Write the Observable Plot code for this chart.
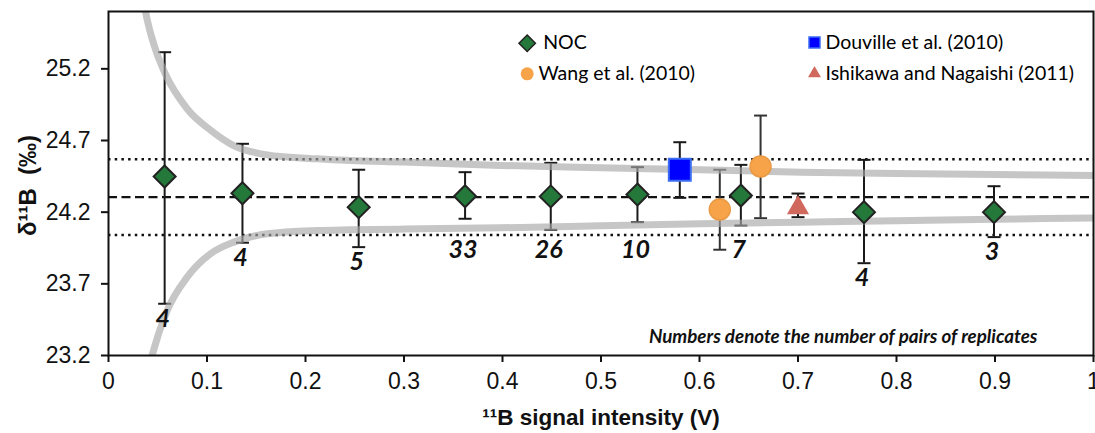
<!DOCTYPE html>
<html><head><meta charset="utf-8">
<script src="https://cdn.jsdelivr.net/npm/d3@7"></script>
<script src="https://cdn.jsdelivr.net/npm/@observablehq/plot@0.6"></script>
<style>body{margin:0;background:#fff}</style>
</head><body><div id="chart"></div>
<script>
// ---- data ----
const xTicks = [0, 0.1, 0.2, 0.3, 0.4, 0.5, 0.6, 0.7, 0.8, 0.9, 1];
const xTickLabels = ["0", "0.1", "0.2", "0.3", "0.4", "0.5", "0.6", "0.7", "0.8", "0.9", "1"];
const yTicks = [23.2, 23.7, 24.2, 24.7, 25.2];
const yTickLabels = ["23.2", "23.7", "24.2", "24.7", "25.2"];

const nocX = [0.057, 0.136, 0.254, 0.362, 0.449, 0.537, 0.642, 0.767, 0.899];
const nocY = [24.449, 24.332, 24.235, 24.311, 24.31, 24.323, 24.316, 24.2, 24.2];
const nocHigh = [25.316, 24.677, 24.496, 24.479, 24.544, 24.514, 24.53, 24.565, 24.381];
const nocLow = [23.561, 23.987, 23.956, 24.154, 24.077, 24.13, 24.107, 23.844, 24.026];
const nocPairs = ["4", "4", "5", "33", "26", "10", "7", "4", "3"];

const douvilleX = [0.580];
const douvilleY = [24.496];
const douvilleHigh = [24.688];
const douvilleLow = [24.30];

const wangX = [0.6206, 0.662];
const wangY = [24.219, 24.519];
const wangHigh = [24.496, 24.874];
const wangLow = [23.938, 24.158];

const ishikawaX = [0.700];
const ishikawaY = [24.23];
const ishikawaHigh = [24.33];
const ishikawaLow = [24.165];

const meanValue = 24.305;
const bandUpper = 24.57;
const bandLower = 24.04;

const upperCurveX = [0.034, 0.0376, 0.047, 0.058, 0.080, 0.104, 0.127, 0.161, 0.212, 0.246, 0.30, 0.398, 0.50, 0.601, 0.7025, 0.80, 0.90, 1.0];
const upperCurveY = [25.75, 25.6, 25.35, 25.16, 24.92, 24.77, 24.665, 24.60, 24.572, 24.56, 24.55, 24.526, 24.51, 24.496, 24.479, 24.47, 24.463, 24.456];
const lowerCurveX = [0.041, 0.0443, 0.0596, 0.0799, 0.1036, 0.1272, 0.1611, 0.212, 0.2457, 0.30, 0.398, 0.50, 0.601, 0.7025, 0.80, 0.90, 1.0];
const lowerCurveY = [23.11, 23.2, 23.514, 23.747, 23.91, 23.991, 24.049, 24.072, 24.077, 24.082, 24.091, 24.105, 24.119, 24.13, 24.14, 24.15, 24.16];

const legendLabels = ["NOC", "Wang et al. (2010)", "Douville et al. (2010)", "Ishikawa and Nagaishi (2011)"];
const noteText = "Numbers denote the number of pairs of replicates";

// ---- tables ----
const rows = (xs, ys, hs, ls) => xs.map((x, i) => ({x, y: ys[i], hi: hs[i], lo: ls[i]}));
const noc = rows(nocX, nocY, nocHigh, nocLow).map((d, i) => ({...d, n: nocPairs[i]}));
const douville = rows(douvilleX, douvilleY, douvilleHigh, douvilleLow);
const wang = rows(wangX, wangY, wangHigh, wangLow);
const ishikawa = rows(ishikawaX, ishikawaY, ishikawaHigh, ishikawaLow);
const upperCurve = upperCurveX.map((x, i) => ({x, y: upperCurveY[i]}));
const lowerCurve = lowerCurveX.map((x, i) => ({x, y: lowerCurveY[i]}));

const cap = {draw(ctx, size) { const w = Math.sqrt(size / Math.PI); ctx.moveTo(-w, 0); ctx.lineTo(w, 0); }};

function errorBars(data, color) {
  return [
    Plot.ruleX(data, {x: "x", y1: "lo", y2: "hi", stroke: color, strokeWidth: 2}),
    Plot.dot(data, {x: "x", y: "hi", symbol: cap, r: 6.5, stroke: color, strokeWidth: 2}),
    Plot.dot(data, {x: "x", y: "lo", symbol: cap, r: 6.5, stroke: color, strokeWidth: 2})
  ];
}

const GREEN = "#24793a", ORANGE = "#f6a349", BLUE = "#0000ff", RED = "#d0685e";
const SANS = "'Liberation Sans', Arial, sans-serif";
const HUMAN = "Lato, 'Open Sans', sans-serif";

const legendMark = (sym, fill, stroke, r, dx, dy) =>
  Plot.dot([0], {frameAnchor: "top-left", dx, dy, symbol: sym, r, fill, stroke, strokeWidth: stroke ? 1.5 : 0});
const legendText = (label, dx, dy) =>
  Plot.text([label], {frameAnchor: "top-left", lineAnchor: "middle", dx, dy, text: d => d, textAnchor: "start", fontSize: 19.5, fontFamily: HUMAN, fill: "#000"});

const chart = Plot.plot({
  width: 1095,
  height: 433,
  marginLeft: 108,
  marginRight: 2,
  marginTop: 11,
  marginBottom: 78,
  style: {fontFamily: SANS, fontSize: "23px", color: "#111", background: "#fff"},
  x: {domain: [0, 1]},
  y: {domain: [23.2, 25.6]},
  marks: [
    Plot.ruleY([meanValue], {stroke: "#111", strokeWidth: 2.2, strokeDasharray: "9,4.5"}),
    Plot.ruleY([bandUpper, bandLower], {stroke: "#111", strokeWidth: 2.5, strokeDasharray: "2.5,4.2"}),
    ...errorBars(noc, "#1a1a1a"),
    ...errorBars(douville, "#1a1a1a"),
    ...errorBars(wang, "#333"),
    ...errorBars(ishikawa, "#1a1a1a"),
    Plot.line(upperCurve, {x: "x", y: "y", stroke: "#a8a8a8", strokeOpacity: 0.65, strokeWidth: 7, curve: "monotone-x", clip: true}),
    Plot.line(lowerCurve, {x: "x", y: "y", stroke: "#a8a8a8", strokeOpacity: 0.65, strokeWidth: 7, curve: "monotone-x", clip: true}),
    Plot.dot(noc, {x: "x", y: "y", symbol: "diamond2", r: 9.9, fill: GREEN, stroke: "#222", strokeWidth: 2}),
    Plot.dot(douville, {x: "x", y: "y", symbol: "square", r: 12.4, fill: BLUE, stroke: "#3a6cf4", strokeWidth: 2}),
    Plot.dot(wang, {x: "x", y: "y", symbol: "circle", r: 10.5, fill: ORANGE, stroke: "#ea9a44", strokeWidth: 1.5}),
    Plot.dot(ishikawa, {x: "x", y: "y", symbol: "triangle", r: 8.2, fill: RED}),
    Plot.text(noc, {x: "x", y: d => Math.min(d.lo, bandLower), text: "n", dy: 15, dx: -2, fontSize: 25, fontWeight: "bold", fontStyle: "italic", fontFamily: HUMAN, fill: "#111"}),
    // legend
    legendMark("diamond2", GREEN, "#222", 7.4, 418.7, 31.7),
    legendText(legendLabels[0], 434.7, 31.7),
    legendMark("circle", ORANGE, null, 6.5, 418.7, 62.3),
    legendText(legendLabels[1], 430, 62.3),
    legendMark("square", BLUE, "#3a6cf4", 6.2, 706, 31),
    legendText(legendLabels[2], 717, 31),
    legendMark("triangle", RED, null, 4.8, 706, 62),
    legendText(legendLabels[3], 717, 62),
    // annotation
    Plot.text([noteText], {frameAnchor: "bottom-right", lineAnchor: "middle", dx: -56, dy: -19, text: d => d, textAnchor: "end", fontSize: 18.8, fontWeight: "bold", fontStyle: "italic", fontFamily: HUMAN, fill: "#111"}),
    // axes
    Plot.axisX({ticks: xTicks, tickFormat: d => xTickLabels[xTicks.indexOf(d)], tickSize: 7, tickPadding: 10, strokeWidth: 2, label: null, fontSize: 23}),
    Plot.axisY({ticks: yTicks, tickFormat: d => yTickLabels[yTicks.indexOf(d)], tickSize: 7, tickPadding: 11, strokeWidth: 2, label: null, fontSize: 23}),
    Plot.text(["\u00B9\u00B9B signal intensity (V)"], {frameAnchor: "bottom", lineAnchor: "middle", textAnchor: "middle", dy: 62, text: d => d, fontSize: 22.5, fontWeight: "bold", fontFamily: SANS, fill: "#111"}),
    Plot.text(["\u03B4\u00B9\u00B9B\u00A0\u00A0(\u2030)"], {frameAnchor: "left", lineAnchor: "middle", textAnchor: "middle", dx: -80, dy: 2, rotate: -90, text: d => d, fontSize: 24, fontWeight: "bold", fontFamily: SANS, fill: "#111"}),
    Plot.frame({stroke: "#111", strokeWidth: 2})
  ]
});
document.getElementById("chart").appendChild(chart);
</script></body></html>
